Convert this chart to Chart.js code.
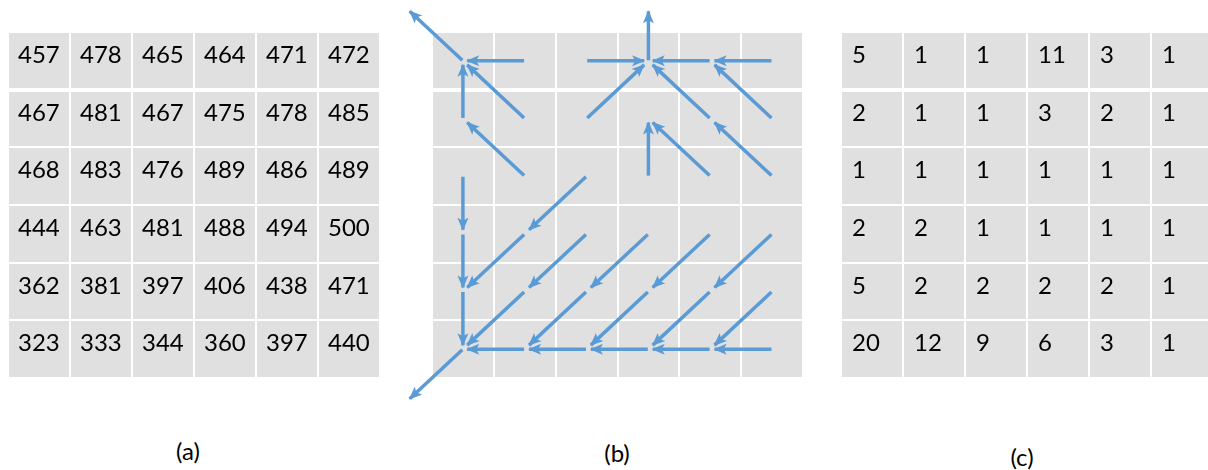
<!DOCTYPE html>
<html>
<head>
<meta charset="utf-8">
<script src="https://cdn.jsdelivr.net/npm/chart.js@4.4.1/dist/chart.umd.min.js"></script>
<style>
  body { margin: 0; width: 1208px; height: 470px; overflow: hidden; background: #fff; position: relative; }
  canvas { position: absolute; }
  .lbl { position: absolute; font: 24px Lato, sans-serif; line-height: 24px; color: #000; transform: translateX(-50%); }
</style>
</head>
<body>
<canvas id="elevChart" width="372" height="346" style="left:8px;top:32px"></canvas>
<canvas id="dirChart" width="410" height="410" style="left:400px;top:0px"></canvas>
<canvas id="accChart" width="372" height="346" style="left:841px;top:32px"></canvas>
<div class="lbl" style="left:188px;top:439px">(a)</div>
<div class="lbl" style="left:617px;top:441px">(b)</div>
<div class="lbl" style="left:1022px;top:445px">(c)</div>
<script>
// (a) elevations, row 0 = top row
var elevation = [
  [457, 478, 465, 464, 471, 472],
  [467, 481, 467, 475, 478, 485],
  [468, 483, 476, 489, 486, 489],
  [444, 463, 481, 488, 494, 500],
  [362, 381, 397, 406, 438, 471],
  [323, 333, 344, 360, 397, 440]
];

// (b) flow direction of each cell ('' = no arrow drawn)
var flowDir = [
  ['NW', 'W',  'E',  'N',  'W',  'W'],
  ['N',  'NW', 'NE', '',   'NW', 'NW'],
  ['S',  'NW', 'SW', 'N',  'NW', 'NW'],
  ['S',  'SW', 'SW', 'SW', 'SW', 'SW'],
  ['S',  'SW', 'SW', 'SW', 'SW', 'SW'],
  ['SW', 'W',  'W',  'W',  'W',  'W']
];

// (c) flow accumulation
var accumulation = [
  [5, 1, 1, 11, 3, 1],
  [2, 1, 1, 3, 2, 1],
  [1, 1, 1, 1, 1, 1],
  [2, 2, 1, 1, 1, 1],
  [5, 2, 2, 2, 2, 1],
  [20, 12, 9, 6, 3, 1]
];

var nCols = 6, nRows = 6;
var cellGray = '#e0e0e0';
var arrowBlue = '#5b9bd5';
var steps = { N: [0, -1], S: [0, 1], E: [1, 0], W: [-1, 0], NE: [1, -1], NW: [-1, -1], SE: [1, 1], SW: [-1, 1] };

// gray cell background
var cellBg = {
  id: 'cellBg',
  beforeDraw: function(chart) {
    var a = chart.chartArea, ctx = chart.ctx;
    ctx.save();
    ctx.fillStyle = cellGray;
    ctx.fillRect(a.left, a.top, a.right - a.left, a.bottom - a.top);
    ctx.restore();
  }
};

// numbers in cells
var cellText = {
  id: 'cellText',
  afterDatasetsDraw: function(chart, args, opts) {
    if (!opts.rows) return;
    var ctx = chart.ctx, x = chart.scales.x, y = chart.scales.y;
    ctx.save();
    ctx.font = '24px Lato, sans-serif';
    ctx.fillStyle = '#000';
    ctx.textBaseline = 'alphabetic';
    opts.rows.forEach(function(row, r) {
      row.forEach(function(v, c) {
        ctx.fillText(String(v), x.getPixelForValue(c) + opts.padX, y.getPixelForValue(r) + 31);
      });
    });
    ctx.restore();
  }
};

// arrowheads at the end of every arrow dataset
var arrowHeads = {
  id: 'arrowHeads',
  afterDatasetsDraw: function(chart) {
    var ctx = chart.ctx;
    chart.data.datasets.forEach(function(ds, i) {
      if (!ds.arrow) return;
      var pts = chart.getDatasetMeta(i).data;
      var a = pts[0], b = pts[1];
      var ang = Math.atan2(b.y - a.y, b.x - a.x);
      ctx.save();
      ctx.translate(b.x, b.y);
      ctx.rotate(ang);
      ctx.beginPath();
      ctx.moveTo(1, 0);
      ctx.lineTo(-12, -5.5);
      ctx.lineTo(-9, 0);
      ctx.lineTo(-12, 5.5);
      ctx.closePath();
      ctx.fillStyle = ds.borderColor;
      ctx.fill();
      ctx.restore();
    });
  }
};

function gridScales() {
  var grid = { color: '#ffffff', drawTicks: false };
  return {
    x: { type: 'linear', min: 0, max: nCols, ticks: { display: false, stepSize: 1 },
         grid: Object.assign({}, grid, { lineWidth: 2 }), border: { display: false } },
    y: { type: 'linear', min: 0, max: nRows, reverse: true, ticks: { display: false, stepSize: 1 },
         grid: Object.assign({}, grid, { lineWidth: function(c) { return c.tick && c.tick.value === 1 ? 4 : 2; } }),
         border: { display: false } }
  };
}

function cellCenters(rows) {
  var pts = [];
  rows.forEach(function(row, r) { row.forEach(function(v, c) { pts.push({ x: c + 0.5, y: r + 0.5 }); }); });
  return pts;
}

function tableChart(id, rows, padX) {
  return new Chart(document.getElementById(id), {
    type: 'scatter',
    data: { datasets: [{ data: cellCenters(rows), pointRadius: 0 }] },
    options: {
      responsive: false, animation: false,
      layout: { padding: 0 },
      scales: gridScales(),
      plugins: { legend: { display: false }, tooltip: { enabled: false }, cellText: { rows: rows, padX: padX } }
    },
    plugins: [cellBg, cellText]
  });
}

tableChart('elevChart', elevation, 10);
tableChart('accChart', accumulation, 11);

// one line dataset per arrow, from cell centre towards the downstream cell
var arrowSets = [];
flowDir.forEach(function(row, r) {
  row.forEach(function(d, c) {
    if (!d) return;
    var s = steps[d];
    var tc = c + s[0], tr = r + s[1];
    var inside = tc >= 0 && tc < nCols && tr >= 0 && tr < nRows;
    var reach = inside ? 0.93 : 0.86;
    var cx = c + 0.5, cy = r + 0.5;
    arrowSets.push({
      arrow: true,
      data: [{ x: cx + s[0] * 0.01, y: cy + s[1] * 0.01 }, { x: cx + s[0] * reach, y: cy + s[1] * reach }],
      showLine: true,
      borderColor: arrowBlue,
      borderWidth: 3.5,
      pointRadius: 0,
      clip: false
    });
  });
});

new Chart(document.getElementById('dirChart'), {
  type: 'scatter',
  data: { datasets: arrowSets },
  options: {
    responsive: false, animation: false,
    layout: { padding: { left: 32, top: 32, right: 7, bottom: 32 } },
    scales: gridScales(),
    plugins: { legend: { display: false }, tooltip: { enabled: false } }
  },
  plugins: [cellBg, arrowHeads]
});
</script>
</body>
</html>
